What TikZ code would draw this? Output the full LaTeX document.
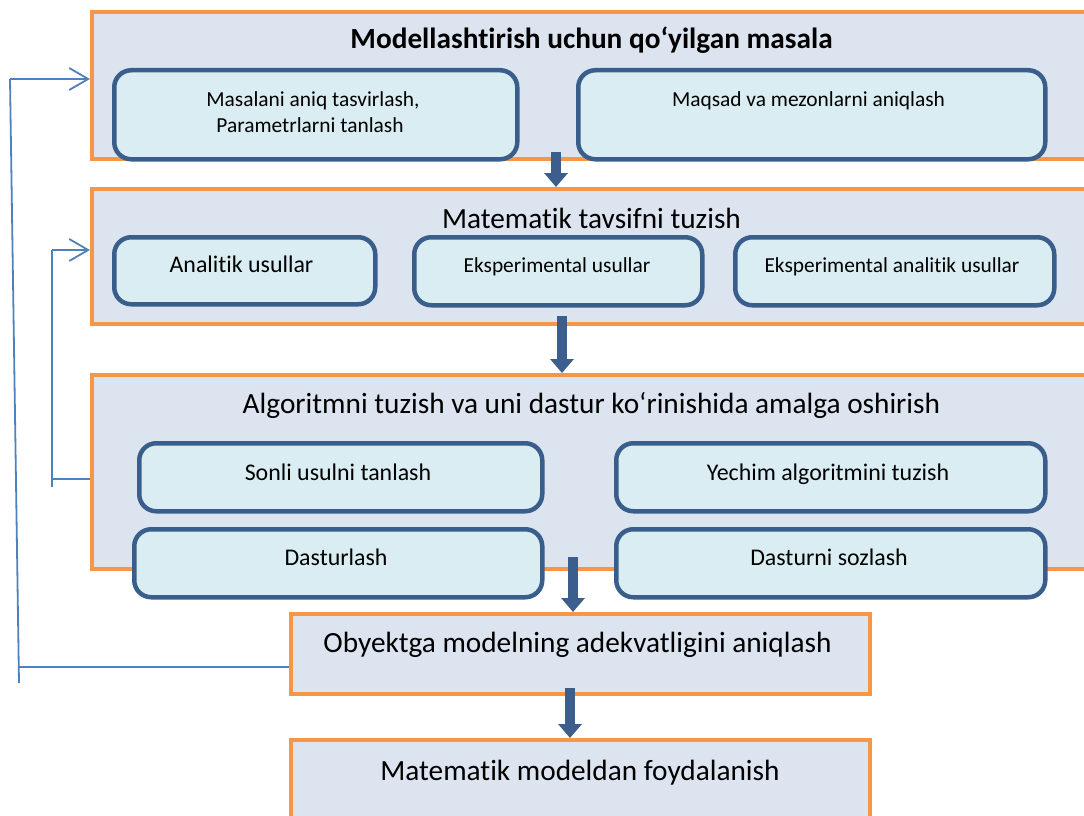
\documentclass[tikz,border=0pt]{standalone}
\usepackage{fontspec}
\setmainfont{Carlito}[Ligatures=NoCommon]
\usetikzlibrary{arrows.meta}
\definecolor{outerfill}{HTML}{DCE4F0}
\definecolor{outerline}{HTML}{F79646}
\definecolor{innerfill}{HTML}{DAEDF3}
\definecolor{innerline}{HTML}{3A5E8C}
\definecolor{feedc}{HTML}{4F81BD}
\definecolor{arrowc}{HTML}{3B5E8D}
\tikzset{
  outerbox/.style={draw=outerline, fill=outerfill, line width=4pt, anchor=north west, inner sep=0pt, minimum width=#1},
  innerbox/.style={draw=innerline, fill=innerfill, line width=4.5pt, rounded corners=17pt, anchor=north west, inner sep=0pt},
  feed/.style={draw=feedc, line width=1.8pt},
  feedarrow/.style={feed, -{Straight Barb[length=19pt, width=22pt, line width=1.8pt]}},
  bigarrow/.style={draw=arrowc, line width=10pt, -{Triangle[length=14pt, width=23pt]}},
  lbl/.style={inner sep=0pt, text=black, anchor=base},
  ttl/.style={lbl, font=\fontsize{29.3}{34}\selectfont},
  small/.style={lbl, font=\fontsize{21.4}{26}\selectfont},
  mid/.style={lbl, font=\fontsize{23.9}{28}\selectfont}
}
\begin{document}
\begin{tikzpicture}[x=1pt, y=-1pt]
\path[use as bounding box] (0,0) rectangle (1084,816);
\clip (0,0) rectangle (1084,816);
% box 1
\node[outerbox=1010pt, minimum height=147pt] (b1) at (90,10) {};
\node[ttl, font=\fontsize{29.3}{34}\selectfont\bfseries] (t1) at (591.5,48.5) {Modellashtirish uchun qo‘yilgan masala};
\node[innerbox, minimum width=403pt, minimum height=89pt] (a1) at (112,68) {};
\node[small] (a1t) at (313,106) {Masalani aniq tasvirlash,};
\node[small] (a1u) at (310,132) {Parametrlarni tanlash};
\node[innerbox, minimum width=467pt, minimum height=89pt] (a2) at (576,68) {};
\node[small] (a2t) at (808.5,106) {Maqsad va mezonlarni aniqlash};
% box 2
\node[outerbox=1010pt, minimum height=135pt] (b2) at (90,187) {};
\node[ttl] (t2) at (591.5,228) {Matematik tavsifni tuzish};
\node[innerbox, minimum width=261pt, minimum height=67pt] (c1) at (112,235) {};
\node[mid] (c1t) at (241.5,272.5) {Analitik usullar};
\node[innerbox, minimum width=288pt, minimum height=68pt] (c2) at (412,235) {};
\node[small] (c2t) at (557,272.5) {Eksperimental usullar};
\node[innerbox, minimum width=319pt, minimum height=68pt] (c3) at (733,235) {};
\node[small] (c3t) at (892,272.5) {Eksperimental analitik usullar};
% box 3
\node[outerbox=1010pt, minimum height=194pt] (b3) at (90,373) {};
\node[ttl] (t3) at (591.5,413) {Algoritmni tuzish va uni dastur ko‘rinishida amalga oshirish};
\node[innerbox, minimum width=403pt, minimum height=68pt] (d1) at (137,441) {};
\node[mid] (d1t) at (338,480) {Sonli usulni tanlash};
\node[innerbox, minimum width=429pt, minimum height=68pt] (d2) at (614,441) {};
\node[mid] (d2t) at (828,480) {Yechim algoritmini tuzish};
\node[innerbox, minimum width=408pt, minimum height=68pt] (d3) at (132,527) {};
\node[mid] (d3t) at (336,565) {Dasturlash};
\node[innerbox, minimum width=429pt, minimum height=68pt] (d4) at (614,527) {};
\node[mid] (d4t) at (829,565) {Dasturni sozlash};
% box 4, 5
\node[outerbox=579pt, minimum height=80pt] (b4) at (289,612) {};
\node[ttl] (t4) at (577.5,652.5) {Obyektga modelning adekvatligini aniqlash};
\node[outerbox=579pt, minimum height=100pt] (b5) at (289,738) {};
\node[ttl] (t5) at (580,780) {Matematik modeldan foydalanish};
% big arrows
\coordinate (s1) at (556,152);
\draw[bigarrow] (s1) -- (s1 |- b2.north);
\coordinate (s2) at (562,316);
\draw[bigarrow] (s2) -- (s2 |- b3.north);
\coordinate (s3) at (573,557);
\draw[bigarrow] (s3) -- (s3 |- b4.north);
\coordinate (s4) at (570,688);
\draw[bigarrow] (s4) -- (s4 |- b5.north);
% feedback lines
\coordinate (o1) at (10,79);
\coordinate (o2) at (19,683);
\coordinate (o3) at (18.7,667);
\draw[feed] (o1) -- (o2);
\draw[feedarrow] (o1) -- (o1 -| b1.west);
\draw[feed] (o3) -- (o3 -| b4.west);
\coordinate (i1) at (52,250);
\coordinate (i2) at (52,487);
\coordinate (i3) at (52,479);
\draw[feed] (i1) -- (i2);
\draw[feedarrow] (i1) -- (i1 -| b2.west);
\draw[feed] (i3) -- (i3 -| b3.west);
\end{tikzpicture}
\end{document}
